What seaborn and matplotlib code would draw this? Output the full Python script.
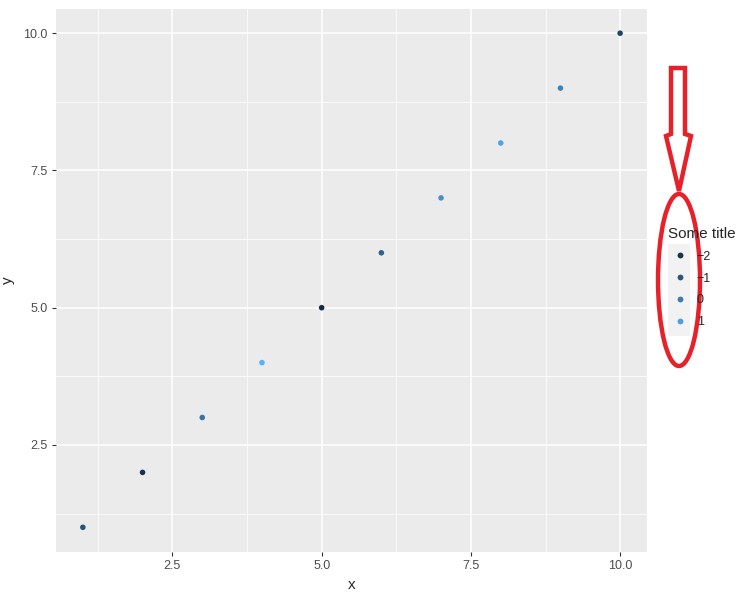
import numpy as np
import pandas as pd
import matplotlib.pyplot as plt
import seaborn as sns
from matplotlib.colors import LinearSegmentedColormap
from matplotlib.lines import Line2D
from matplotlib.patches import Ellipse, Polygon, Rectangle

# Data
x_vals = [1, 2, 3, 4, 5, 6, 7, 8, 9, 10]
y_vals = [1, 2, 3, 4, 5, 6, 7, 8, 9, 10]
z_vals = [-1.1, -2.0, -0.2, 1.5, -2.2, -0.7, 0.6, 1.1, 0.2, -1.5]
legend_breaks = [-2, -1, 0, 1]
legend_title = "Some title"
x_ticks = [2.5, 5.0, 7.5, 10.0]
y_ticks = [2.5, 5.0, 7.5, 10.0]

df = pd.DataFrame({"x": x_vals, "y": y_vals, "z": z_vals})

W, H = 746, 597
sns.set_theme(style="darkgrid")
plt.rcParams["font.family"] = ["Liberation Sans", "DejaVu Sans"]

fig = plt.figure(figsize=(W / 100, H / 100), dpi=100)
ax = fig.add_axes([56 / W, 1 - 552 / H, 591 / W, 543.5 / H])
ax.set_facecolor("#EBEBEB")

cmap = LinearSegmentedColormap.from_list("gg", ["#132B43", "#56B1F7"])
zmin, zmax = min(z_vals), max(z_vals)

sns.scatterplot(data=df, x="x", y="y", hue="z", palette=cmap,
                hue_norm=(zmin, zmax), s=16, linewidth=0, legend=False, ax=ax)

# ggplot-style expanded limits
ax.set_xlim(0.55, 10.45)
ax.set_ylim(0.55, 10.45)
ax.set_xticks(x_ticks)
ax.set_yticks(y_ticks)
ax.set_xticks([1.25, 3.75, 6.25, 8.75], minor=True)
ax.set_yticks([1.25, 3.75, 6.25, 8.75], minor=True)
ax.grid(which="major", color="white", linewidth=1.1)
ax.grid(which="minor", color="white", linewidth=0.55)
ax.set_axisbelow(True)
for s in ax.spines.values():
    s.set_visible(False)
ax.tick_params(which="major", bottom=True, left=True, length=3, width=0.8,
               color="#333333", labelsize=9, labelcolor="#4D4D4D", pad=3)
ax.tick_params(which="minor", bottom=False, left=False, length=0)
ax.set_xlabel("x", fontsize=11, labelpad=4)
ax.set_ylabel("y", fontsize=11, labelpad=6)

# legend key background
fig.patches.append(Rectangle((668 / W, 1 - 336 / H), 22 / W, 92 / H,
                             transform=fig.transFigure, facecolor="#F2F2F2",
                             edgecolor="none", zorder=0))

handles = [Line2D([], [], marker="o", linestyle="none", markersize=4.2,
                  markerfacecolor=cmap((b - zmin) / (zmax - zmin)),
                  markeredgewidth=0) for b in legend_breaks]
leg = fig.legend(handles, [str(b).replace("-", "\u2212") for b in legend_breaks],
                 title=legend_title, loc="upper left",
                 bbox_to_anchor=(663 / W, 1 - 222 / H), frameon=False,
                 fontsize=9, title_fontsize=11, handlelength=1.84,
                 handletextpad=0.45, labelspacing=0.78, borderaxespad=0)
leg._legend_box.align = "left"

# red hand-drawn annotation
red = "#E8202A"
arrow = [(671, 68), (685, 68), (685, 134), (691, 136), (679, 191),
         (666, 136), (671, 134)]
fig.patches.append(Polygon([(px / W, 1 - py / H) for px, py in arrow],
                           closed=True, transform=fig.transFigure,
                           facecolor="none", edgecolor=red, linewidth=3.2,
                           zorder=5))
fig.patches.append(Ellipse((679 / W, 1 - 280 / H), 42 / W, 172 / H,
                           transform=fig.transFigure, facecolor="none",
                           edgecolor=red, linewidth=3.2, zorder=5))

fig.savefig("out.png", dpi=100)
